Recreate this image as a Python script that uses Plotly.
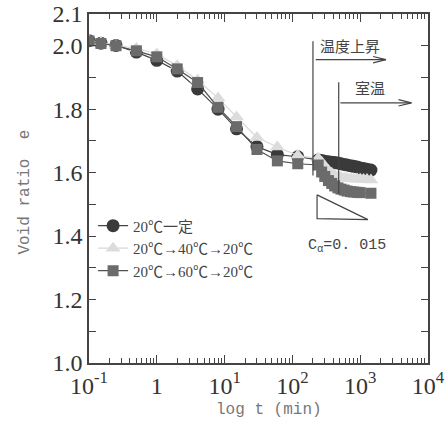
import plotly.graph_objects as go
import numpy as np

# ---- data ----
t_early = [0.1, 0.15, 0.25, 0.5, 1, 2, 4, 8, 15, 30, 60, 120]
t_dense = [240, 270, 300, 340, 380, 420, 470, 520, 580, 640, 720, 800, 900, 1000, 1120, 1260, 1440]
t_sq_dense = [240, 270, 300, 340, 380, 420, 470, 520, 580, 640, 720, 800, 900, 1000, 1440]

e_const_early = [2.016, 2.008, 2.001, 1.980, 1.954, 1.920, 1.864, 1.800, 1.738, 1.682, 1.657, 1.650]
e_const_dense = [1.640, 1.638, 1.636, 1.634, 1.633, 1.632, 1.630, 1.628, 1.626, 1.624, 1.622, 1.620,
                 1.618, 1.615, 1.613, 1.611, 1.608]

e_40_early = [2.017, 2.010, 2.001, 1.992, 1.974, 1.937, 1.892, 1.835, 1.775, 1.711, 1.681, 1.654]
e_40_dense = [1.645, 1.633, 1.620, 1.607, 1.598, 1.592, 1.588, 1.585, 1.583, 1.582, 1.581, 1.580,
              1.580, 1.579, 1.578, 1.578, 1.577]

e_60_early = [2.015, 2.007, 2.000, 1.984, 1.965, 1.927, 1.884, 1.806, 1.745, 1.673, 1.637, 1.628]
e_60_dense = [1.624, 1.602, 1.588, 1.575, 1.566, 1.558, 1.552, 1.548, 1.545, 1.542, 1.540, 1.539,
              1.538, 1.537, 1.535]

series_names = ["20℃一定", "20℃→40℃→20℃", "20℃→60℃→20℃"]

y_tickvals = [1.0, 1.1, 1.2, 1.3, 1.4, 1.5, 1.6, 1.7, 1.8, 1.9, 2.0, 2.1]
y_ticktext = ["1.0", "", "1.2", "", "1.4", "", "1.6", "", "1.8", "", "2.0", "2.1"]
x_tickvals = [0.1, 1, 10, 100, 1000, 10000]
x_ticktext = ["10<sup>-1</sup>", "1", "10<sup>1</sup>", "10<sup>2</sup>", "10<sup>3</sup>", "10<sup>4</sup>"]
x_minor = [m * d for d in [0.1, 1, 10, 100, 1000] for m in range(2, 10)]

# annotation guides (data coordinates)
vline1_t = [201, 201]; vline1_e = [2.014, 1.591]
vline2_t = [482, 482]; vline2_e = [1.885, 1.533]
arrow1_t = [221, 2400]; arrow1_e = [1.956, 1.956]
arrow1_head_t = [1550, 2400, 1550]; arrow1_head_e = [1.966, 1.956, 1.946]
arrow2_t = [511, 5700]; arrow2_e = [1.820, 1.820]
arrow2_head_t = [3680, 5700, 3680]; arrow2_head_e = [1.830, 1.820, 1.810]
slope_t = [231, 231, 1300, 231]; slope_e = [1.530, 1.455, 1.452, 1.530]

fig = go.Figure()

styles = [
    dict(symbol="circle", size=13, color="#3a3a3a", line="#444444"),
    dict(symbol="triangle-up", size=13, color="#dcdcdc", line="#d8d8d8"),
    dict(symbol="square", size=11, color="#6b6b6b", line="#505050"),
]
xs = [t_early + t_dense, t_early + t_dense, t_early + t_sq_dense]
ys = [e_const_early + e_const_dense, e_40_early + e_40_dense, e_60_early + e_60_dense]

for name, st, x, y in zip(series_names, styles, xs, ys):
    fig.add_trace(go.Scatter(
        x=x, y=y, mode="lines+markers", name=name,
        line=dict(color=st["line"], width=1.2),
        marker=dict(symbol=st["symbol"], size=st["size"], color=st["color"],
                    line=dict(width=0)),
    ))

guide = dict(color="#444444", width=1.2)
for gx, gy in [(vline1_t, vline1_e), (vline2_t, vline2_e), (arrow1_t, arrow1_e),
               (arrow1_head_t, arrow1_head_e), (arrow2_t, arrow2_e),
               (arrow2_head_t, arrow2_head_e), (slope_t, slope_e)]:
    fig.add_trace(go.Scatter(x=gx, y=gy, mode="lines", line=guide,
                             showlegend=False, hoverinfo="skip"))

fig.add_annotation(x=np.log10(700), y=2.002, text="温度上昇", showarrow=False,
                   font=dict(family="Noto Sans CJK JP", size=15, color="#444"))
fig.add_annotation(x=np.log10(1400), y=1.868, text="室温", showarrow=False,
                   font=dict(family="Noto Sans CJK JP", size=15, color="#444"))
fig.add_annotation(x=np.log10(640), y=1.368, text="C<sub>α</sub>=0. 015", showarrow=False,
                   font=dict(family="Liberation Mono, Noto Sans CJK JP", size=15, color="#444"))

fig.add_annotation(xref="paper", yref="paper", x=0.53, y=-0.135, yanchor="middle",
                   text="log t (min)", showarrow=False,
                   font=dict(family="Liberation Mono", size=16, color="#777"))
fig.add_annotation(xref="paper", yref="paper", x=-0.19, y=0.49, xanchor="center",
                   text="Void ratio  e", showarrow=False, textangle=-90,
                   font=dict(family="Liberation Mono", size=16, color="#777"))

axis_common = dict(showline=True, linecolor="#444", linewidth=1.5, mirror="ticks",
                   ticks="inside", tickcolor="#444", tickwidth=1.2, showgrid=False,
                   zeroline=False, automargin=False,
                   tickfont=dict(family="Liberation Serif", size=24, color="#333"))

fig.update_xaxes(type="log", range=[-1, 4], tickmode="array", tickvals=x_tickvals,
                 ticktext=x_ticktext, ticklen=8,
                 minor=dict(tickmode="array", tickvals=x_minor, ticks="inside", ticklen=5,
                            tickcolor="#444", tickwidth=1, showgrid=False),
                 **axis_common)
fig.update_yaxes(range=[1.0, 2.1], tickmode="array", tickvals=y_tickvals,
                 ticktext=y_ticktext, ticklen=7, **axis_common)

fig.update_layout(
    width=447, height=428,
    margin=dict(l=89, r=19, t=14, b=65, autoexpand=False),
    plot_bgcolor="white", paper_bgcolor="white",
    showlegend=True,
    legend=dict(x=0.012, y=0.44, xanchor="left", yanchor="top",
                bgcolor="rgba(0,0,0,0)", tracegroupgap=0,
                font=dict(family="Liberation Serif, Noto Sans CJK JP", size=15, color="#444")),
)

fig.write_html("out.html")
